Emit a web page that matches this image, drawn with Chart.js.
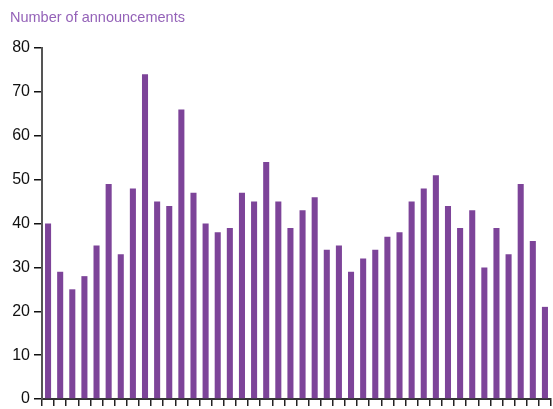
<!DOCTYPE html>
<html>
<head>
<meta charset="utf-8">
<script src="https://cdn.jsdelivr.net/npm/chart.js@4.4.0/dist/chart.umd.min.js"></script>
<style>
  html, body { margin: 0; padding: 0; background: #fff; overflow: hidden; }
  #wrap { width: 553px; height: 409px; overflow: hidden; }
</style>
</head>
<body>
<div id="wrap"><canvas id="chart" width="553" height="424"></canvas></div>
<script>
// Monthly announcements
const months = [
    'Jan 12', 'Feb 12', 'Mar 12', 'Apr 12', 'May 12', 'Jun 12', 'Jul 12', 'Aug 12', 'Sep 12', 'Oct 12', 'Nov 12', 'Dec 12',
    'Jan 13', 'Feb 13', 'Mar 13', 'Apr 13', 'May 13', 'Jun 13', 'Jul 13', 'Aug 13', 'Sep 13', 'Oct 13', 'Nov 13', 'Dec 13',
    'Jan 14', 'Feb 14', 'Mar 14', 'Apr 14', 'May 14', 'Jun 14', 'Jul 14', 'Aug 14', 'Sep 14', 'Oct 14', 'Nov 14', 'Dec 14',
    'Jan 15', 'Feb 15', 'Mar 15', 'Apr 15', 'May 15', 'Jun 15'
];
const announcements = [
    40, 29, 25, 28, 35, 49, 33, 48, 74, 45, 44, 66,
    47, 40, 38, 39, 47, 45, 54, 45, 39, 43, 46, 34,
    35, 29, 32, 34, 37, 38, 45, 48, 51, 44, 39, 43,
    30, 39, 33, 49, 36, 21
];
const yTicks = [0, 10, 20, 30, 40, 50, 60, 70, 80];

const titleText = 'Number of announcements';

// draws the axis title in the top-left corner
const cornerTitle = {
    id: 'cornerTitle',
    afterDraw(chart) {
        const c = chart.ctx;
        c.save();
        c.font = '14.5px "Liberation Sans", Arial, sans-serif';
        c.fillStyle = '#9462b8';
        c.textBaseline = 'middle';
        c.textAlign = 'left';
        c.fillText(titleText, 10, 18);
        c.restore();
    }
};

new Chart(document.getElementById('chart'), {
    type: 'bar',
    data: {
        labels: months,
        datasets: [{
            data: announcements,
            backgroundColor: '#7d4499',
            barPercentage: 0.5,
            categoryPercentage: 1.0
        }]
    },
    options: {
        responsive: false,
        animation: false,
        devicePixelRatio: 1,
        layout: { padding: { top: 48, right: 2, left: 0, bottom: 0 } },
        plugins: {
            legend: { display: false },
            tooltip: { enabled: false }
        },
        scales: {
            x: {
                offset: true,
                grid: {
                    offset: true,
                    drawOnChartArea: false,
                    drawTicks: true,
                    tickLength: 7,
                    color: '#222',
                    lineWidth: 1.5
                },
                border: { color: '#333', width: 2 },
                ticks: {
                    autoSkip: false,
                    maxRotation: 0,
                    padding: 3,
                    color: '#aaa',
                    font: { family: '"Liberation Sans", Arial, sans-serif', size: 10 },
                    callback: function(value, index) {
                        return index % 3 === 0 ? months[index] : '';
                    }
                }
            },
            y: {
                min: 0,
                max: 80,
                afterBuildTicks: function(scale) {
                    scale.ticks = yTicks.map(v => ({ value: v }));
                },
                afterFit: function(scale) {
                    scale.width = 42;
                },
                grid: {
                    drawOnChartArea: false,
                    drawTicks: true,
                    tickLength: 8,
                    color: '#111',
                    lineWidth: 1.5
                },
                border: { color: '#555', width: 2 },
                ticks: {
                    padding: 4,
                    color: '#111',
                    font: { family: '"Liberation Sans", Arial, sans-serif', size: 16 }
                }
            }
        }
    },
    plugins: [cornerTitle]
});
</script>
</body>
</html>
